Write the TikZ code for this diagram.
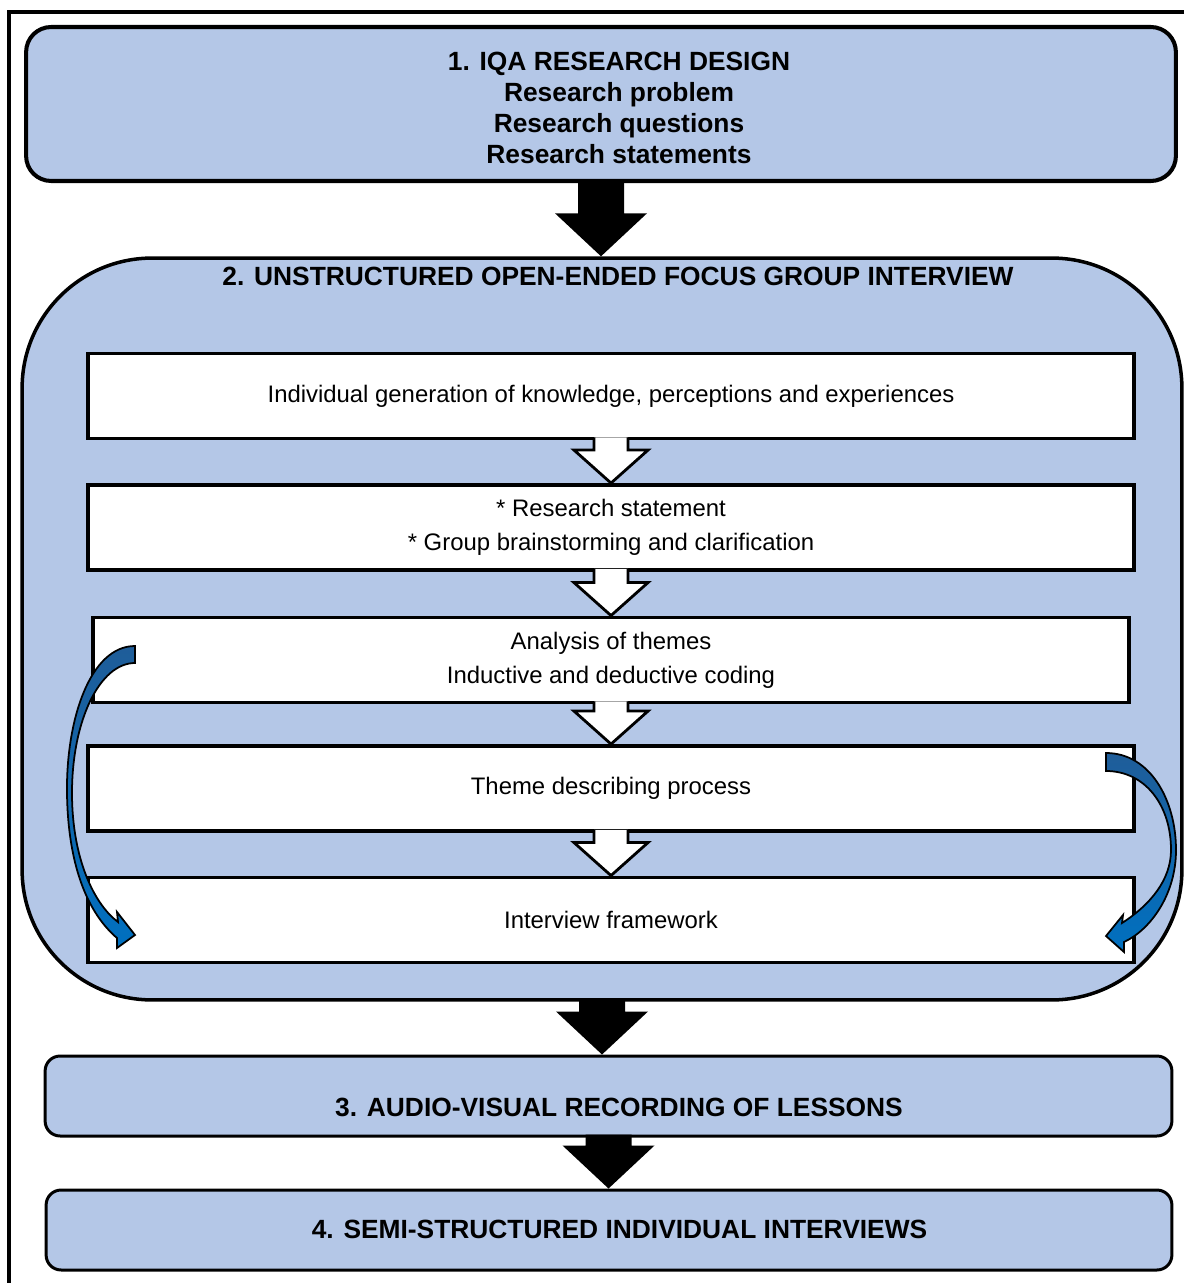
\documentclass[tikz,border=0pt]{standalone}
\usepackage{fontspec}
\setmainfont{Liberation Sans}
\usetikzlibrary{calc}

\definecolor{boxblue}{RGB}{180,199,231}
\definecolor{arrowtop}{RGB}{31,93,153}
\definecolor{arrowbot}{RGB}{0,112,192}

% block arrow from the bottom of one node to the top of the next
\newcommand{\blockarrow}[6]{%
  \draw[#1] ($(#2.south)+(-#4,-3)$) -- ($(#2.south |- #3.north)+(-#4,-#6)$)
    -- ($(#2.south |- #3.north)+(-#5,-#6)$) -- (#2.south |- #3.north)
    -- ($(#2.south |- #3.north)+(#5,-#6)$) -- ($(#2.south |- #3.north)+(#4,-#6)$)
    -- ($(#2.south)+(#4,-3)$);
}

\begin{document}
\begin{tikzpicture}[
    x=0.02cm, y=-0.02cm,
    stage/.style={rectangle, rounded corners=0.5cm, draw, line width=2.3pt, fill=boxblue,
        inner sep=0pt},
    stagetext/.style={align=center, inner sep=0pt, font=\fontsize{15}{17.6}\selectfont\bfseries},
    step box/.style={rectangle, draw, line width=2.2pt, fill=white, inner sep=0pt,
        minimum width=20.92cm, minimum height=1.7cm, align=center,
        font=\fontsize{13.6}{19.3}\selectfont},
    solidarrow/.style={fill=black, draw=none},
    hollowarrow/.style={fill=white, draw=black, line width=1.6pt, line join=miter},
    curvearrow/.style={top color=arrowtop, bottom color=arrowbot, draw=black, line width=1pt},
]
    \useasboundingbox (0,0) rectangle (1184,1283);
    % frame
    \draw[line width=1.8pt] (1184,12) -- (9,12) -- (9,1283);

    % Nodes
    \node[stage, minimum width=23cm, minimum height=3.08cm] (design) at (601,104) {};
    \node[stagetext] (designtext) at (619,108)
        {1. IQA RESEARCH DESIGN\\Research problem\\Research questions\\Research statements};
    \node[stage, rounded corners=2.6cm, line width=2pt, minimum width=23.2cm, minimum height=14.84cm]
        (focus) at (602,629) {};
    \node[stagetext] (focustitle) at (618,276)
        {2. UNSTRUCTURED OPEN-ENDED FOCUS GROUP INTERVIEW};

    \node[step box] (individual) at (611,396)
        {Individual generation of knowledge, perceptions and experiences};
    \node[step box] (brainstorm) at (611,527.5)
        {* Research statement\\* Group brainstorming and clarification};
    \node[step box, minimum width=20.72cm] (analysis) at (611,660)
        {Analysis of themes\\Inductive and deductive coding};
    \node[step box] (describing) at (611,788.5) {Theme describing process};
    \node[step box] (framework) at (611,920) {Interview framework};

    \node[stage, rounded corners=0.3cm, line width=1.7pt, minimum width=22.54cm, minimum height=1.6cm]
        (recording) at (608.5,1096) {};
    \node[stagetext] (recordingtext) at (619,1107) {3. AUDIO-VISUAL RECORDING OF LESSONS};
    \node[stage, rounded corners=0.3cm, line width=1.7pt, minimum width=22.52cm, minimum height=1.6cm]
        (interviews) at (609,1230) {};
    \node[stagetext] (interviewstext) at (619.5,1229) {4. SEMI-STRUCTURED INDIVIDUAL INTERVIEWS};

    % Arrows
    \blockarrow{solidarrow}{design}{focus}{23}{46}{43}
    \blockarrow{solidarrow}{focus}{recording}{23}{46}{43}
    \blockarrow{solidarrow}{recording}{interviews}{23}{46}{43}

    \blockarrow{hollowarrow}{individual}{brainstorm}{17}{37}{33}
    \blockarrow{hollowarrow}{brainstorm}{analysis}{17}{37}{33}
    \blockarrow{hollowarrow}{analysis}{describing}{17}{37}{33}
    \blockarrow{hollowarrow}{describing}{framework}{17}{37}{33}

    % curved arrows
    \draw[curvearrow] (135,646) .. controls (90,646) and (66,720) .. (67,793)
        .. controls (68,870) and (90,915) .. (117,938) -- (117,948) -- (135,935) -- (117,912)
        -- (118,922) .. controls (95,905) and (72,860) .. (72,793)
        .. controls (72,720) and (100,663) .. (135,663) -- cycle;
    \draw[curvearrow] (1106,753) .. controls (1150,753) and (1176,800) .. (1176,850)
        .. controls (1176,895) and (1150,930) .. (1124,942) -- (1124,952) -- (1106,936) -- (1123,915)
        -- (1122,923) .. controls (1150,905) and (1171,880) .. (1171,850)
        .. controls (1171,805) and (1145,771) .. (1106,771) -- cycle;
\end{tikzpicture}
\end{document}
